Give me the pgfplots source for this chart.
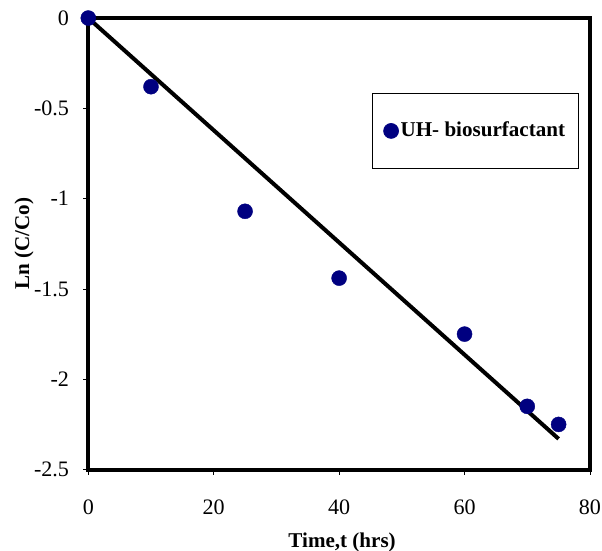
\documentclass[border=0pt]{standalone}
\usepackage{fontspec}
\setmainfont{Liberation Serif}
\usepackage{pgfplots}
\pgfplotsset{compat=1.18}
\definecolor{PtNavy}{HTML}{000080}

\begin{document}
\fontsize{22bp}{26bp}\selectfont
\begin{tikzpicture}
\begin{axis}[
    name=ax,
    scale only axis,
    width=500bp,
    height=450bp,
    xmin=0, xmax=80,
    ymin=-2.5, ymax=0,
    xtick={0,20,40,60,80},
    ytick={-2.5,-2,-1.5,-1,-0.5,0},
    yticklabels={-2.5,-2,-1.5,-1,-0.5,0},
    xticklabels={0,20,40,60,80},
    tick align=outside,
    tick pos=left,
    major tick length=5bp,
    tick style={line width=0.8bp, black},
    axis line style={line width=4bp},
    clip=false,
    xlabel={\textbf{Time,t (hrs)}},
    ylabel={\textbf{Ln (C/Co)}},
    label style={font=\fontsize{21bp}{24bp}\selectfont},
    xlabel style={at={(axis description cs:0.506,-0.173)}, anchor=base},
    ylabel style={at={(axis description cs:-0.128,0.5)}, anchor=center},
    xticklabel style={anchor=base, inner sep=0pt, yshift=-40bp},
    yticklabel style={anchor=east, inner sep=0pt, xshift=-14bp},
    /pgf/number format/assume math mode=true,
    legend style={at={(0.566,0.833)}, anchor=north west, draw=black,
        line width=0.6bp, inner xsep=11bp, inner ysep=26bp,
        font=\fontsize{21bp}{24bp}\selectfont\bfseries},
    legend cell align=left,
]
\addplot[black, line width=4bp, forget plot] coordinates {
    (0,0) (75,-2.33)
};
\addplot[only marks, mark=*, mark size=7.5bp, color=PtNavy, fill=PtNavy] coordinates {
    (0,0) (10,-0.38) (25,-1.07) (40,-1.44) (60,-1.75) (70,-2.15) (75,-2.25)
};
\legend{UH- biosurfactant}
\end{axis}
\pgfresetboundingbox
\path ([xshift=-88bp,yshift=-81bp]ax.south west) rectangle ([xshift=12bp,yshift=18bp]ax.north east);
\end{tikzpicture}
\end{document}
